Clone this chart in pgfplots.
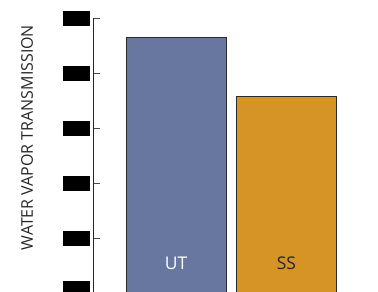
\documentclass[border=0pt]{standalone}
\usepackage{pgfplots}
\pgfplotsset{compat=1.18}
\usepackage{fontspec}
\setmainfont{Open Sans}
\definecolor{utblue}{HTML}{6877A0}
\definecolor{ssorange}{HTML}{D69427}
\definecolor{edge}{HTML}{2A2A2A}
\begin{document}
\begin{tikzpicture}[x=1pt,y=1pt]
\begin{axis}[
  at={(93.5pt,-293.3pt)}, anchor=south west,
  width=276.5pt, height=275pt, scale only axis,
  xmin=-0.747, xmax=1.756, ymin=0, ymax=5,
  axis x line*=bottom, axis y line*=left,
  axis line style={line width=1.2pt, color=black!85},
  ytick={1,2,3,4,5},
  extra y ticks={0},
  extra y tick style={yticklabel style={yshift=5pt}},
  yticklabel={\rule{26.5pt}{15pt}},
  yticklabel style={inner sep=0pt, xshift=-3.5pt},
  xtick={1.745}, xticklabels={},
  tick align=inside, major tick length=6.5pt,
  tick style={line width=0.9pt, color=black!70},
  ybar, bar width=100pt, bar shift=0pt,
  clip=false,
]
\addplot[fill=utblue, draw=edge, line width=1pt] coordinates {(0,4.645)};
\addplot[fill=ssorange, draw=edge, line width=1pt] coordinates {(1,3.58)};
\node[text=white, font=\fontsize{17.5}{20}\selectfont] at (axis cs:0,0.55) {UT};
\node[text=black!85, font=\fontsize{17.5}{20}\selectfont] at (axis cs:1,0.55) {SS};
\end{axis}
\node[rotate=90, inner sep=0pt, text=black!85] at (27,-137.5) {\resizebox{225pt}{11.7pt}{WATER VAPOR TRANSMISSION}};
\pgfresetboundingbox
\useasboundingbox (0,0) rectangle (378,-292);
\end{tikzpicture}
\end{document}
